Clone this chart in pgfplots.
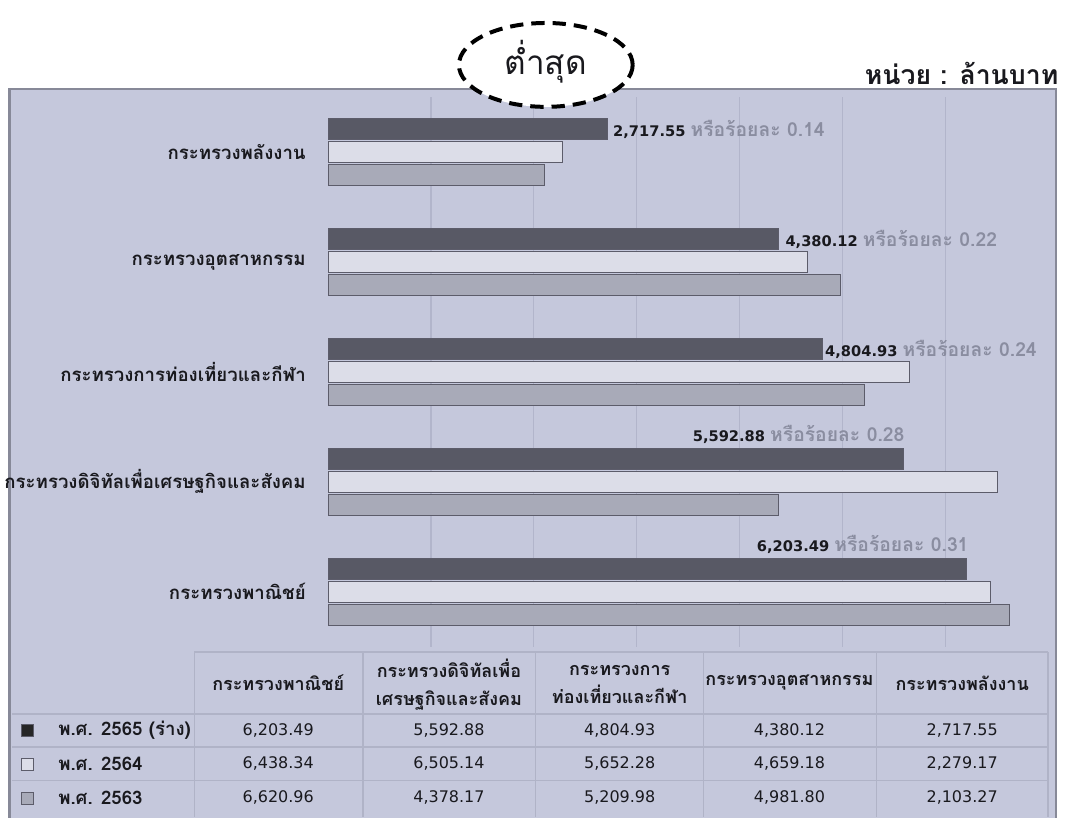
\documentclass[border=0pt]{standalone}
\usepackage{fontspec}
\setmainfont{DejaVu Sans}
\newfontfamily\thai[Script=Thai]{Loma}
\usepackage{pgfplots}
\pgfplotsset{compat=1.18}

\definecolor{panel}{RGB}{197,200,220}
\definecolor{panelline}{RGB}{135,137,152}
\definecolor{gridc}{RGB}{178,181,203}
\definecolor{tabline}{RGB}{176,179,199}
\definecolor{bardark}{RGB}{88,89,101}
\definecolor{barlight}{RGB}{220,221,232}
\definecolor{barmid}{RGB}{168,170,184}
\definecolor{baredge}{RGB}{92,92,106}
\definecolor{pctgrey}{RGB}{138,141,160}
\definecolor{txt}{RGB}{25,25,30}

\newcommand\pct[2]{{\fontsize{11}{13}\selectfont\bfseries\color{txt}#1 {\thai\fontsize{14.5}{16}\selectfont\color{pctgrey}หรือร้อยละ #2}}}

\begin{document}
\begin{tikzpicture}
\begin{scope}[x=0.75pt,y=-0.75pt]
\useasboundingbox (0,0) rectangle (1067,819);
\fill[white] (0,0) rectangle (1067,819);
% background panel
\fill[panel] (8,88) rectangle (1056,819);
\draw[panelline, line width=2pt] (8,819) -- (8,89) -- (1056,89) -- (1056,819);
% table grid
\draw[tabline, line width=1pt] (193,653) -- (1048,653);
\foreach \yy in {715,748,782} \draw[tabline, line width=1pt] (10,\yy) -- (1048,\yy);
\foreach \xx in {193,362,535,703,876,1048} \draw[tabline, line width=1pt] (\xx,653) -- (\xx,818);
\coordinate (axsw) at (327,647.5);
\end{scope}

\begin{axis}[
  at={(axsw)}, anchor=south west,
  scale only axis, width=540.75pt, height=412.5pt,
  xbar, bar width=15.75pt,
  xmin=0, xmax=7000, ymin=-0.5, ymax=4.5,
  axis line style={draw=none}, tick style={draw=none},
  xtick={1000,2000,3000,4000,5000,6000}, xticklabels={},
  xmajorgrids, grid style={gridc, line width=1pt},
  ytick={0,1,2,3,4},
  yticklabels={กระทรวงพาณิชย์,กระทรวงดิจิทัลเพื่อเศรษฐกิจและสังคม,กระทรวงการท่องเที่ยวและกีฬา,กระทรวงอุตสาหกรรม,กระทรวงพลังงาน},
  yticklabel style={font=\thai\bfseries\fontsize{14}{16}\selectfont, text=txt, xshift=-9pt},
  clip=false,
]
% พ.ศ. 2565 (ร่าง)
\addplot[fill=bardark, draw=baredge, line width=0.6pt, bar shift=17.25pt]
  coordinates {(6203.49,0) (5592.88,1) (4804.93,2) (4380.12,3) (2717.55,4)};
% พ.ศ. 2564
\addplot[fill=barlight, draw=baredge, line width=0.6pt, bar shift=0pt]
  coordinates {(6438.34,0) (6505.14,1) (5652.28,2) (4659.18,3) (2279.17,4)};
% พ.ศ. 2563
\addplot[fill=barmid, draw=baredge, line width=0.6pt, bar shift=-17.25pt]
  coordinates {(6620.96,0) (4378.17,1) (5209.98,2) (4981.80,3) (2103.27,4)};

\node[anchor=west, xshift=4pt, yshift=17.25pt, inner sep=0pt] at (axis cs:2717.55,4) {\pct{2,717.55}{0.14}};
\node[anchor=west, xshift=5pt, yshift=17.25pt, inner sep=0pt] at (axis cs:4380.12,3) {\pct{4,380.12}{0.22}};
\node[anchor=west, xshift=2pt, yshift=17.25pt, inner sep=0pt] at (axis cs:4804.93,2) {\pct{4,804.93}{0.24}};
\node[anchor=east, xshift=1pt, yshift=35.25pt, inner sep=0pt] at (axis cs:5592.88,1) {\pct{5,592.88}{0.28}};
\node[anchor=east, xshift=2pt, yshift=35.25pt, inner sep=0pt] at (axis cs:6203.49,0) {\pct{6,203.49}{0.31}};
\end{axis}

\begin{scope}[x=0.75pt,y=-0.75pt]
% annotation
\draw[black, line width=3pt, dash pattern=on 10pt off 6pt, fill=white] (545,65) ellipse [x radius=87, y radius=42];
\node[font=\thai\fontsize{25}{28}\selectfont, text=txt] at (545,62) {ต่ำสุด};
\node[anchor=east, font=\thai\bfseries\fontsize{20}{24}\selectfont, text=txt] at (1063,74) {หน่วย : ล้านบาท};
% table header
\begin{scope}[every node/.style={font=\thai\bfseries\fontsize{13.5}{21}\selectfont, text=txt, align=center}]
\node at (277,684) {กระทรวงพาณิชย์};
\node at (448,686) {กระทรวงดิจิทัลเพื่อ\\เศรษฐกิจและสังคม};
\node at (619,686) {กระทรวงการ\\ท่องเที่ยวและกีฬา};
\node at (789,684) {กระทรวงอุตสาหกรรม};
\node at (962,684) {กระทรวงพลังงาน};
\end{scope}
\begin{scope}[every node/.style={font=\thai\bfseries\fontsize{14}{16}\selectfont, text=txt}]
\node[anchor=west] at (52,731.5) {พ.ศ. 2565 (ร่าง)};
\node[anchor=west] at (52,765) {พ.ศ. 2564};
\node[anchor=west] at (52,799) {พ.ศ. 2563};
\end{scope}
% legend keys
\draw[baredge, fill=black!85] (20,725.5) rectangle (32,737.5);
\draw[baredge, fill=barlight] (20,759) rectangle (32,771);
\draw[baredge, fill=barmid] (20,793) rectangle (32,805);
% table values
\begin{scope}[every node/.style={font=\fontsize{12}{14}\selectfont, text=txt}]
\node at (277,731.5) {6,203.49}; \node at (448,731.5) {5,592.88}; \node at (619,731.5) {4,804.93}; \node at (789,731.5) {4,380.12}; \node at (962,731.5) {2,717.55};
\node at (277,765) {6,438.34}; \node at (448,765) {6,505.14}; \node at (619,765) {5,652.28}; \node at (789,765) {4,659.18}; \node at (962,765) {2,279.17};
\node at (277,799) {6,620.96}; \node at (448,799) {4,378.17}; \node at (619,799) {5,209.98}; \node at (789,799) {4,981.80}; \node at (962,799) {2,103.27};
\end{scope}
\end{scope}
\end{tikzpicture}
\end{document}
